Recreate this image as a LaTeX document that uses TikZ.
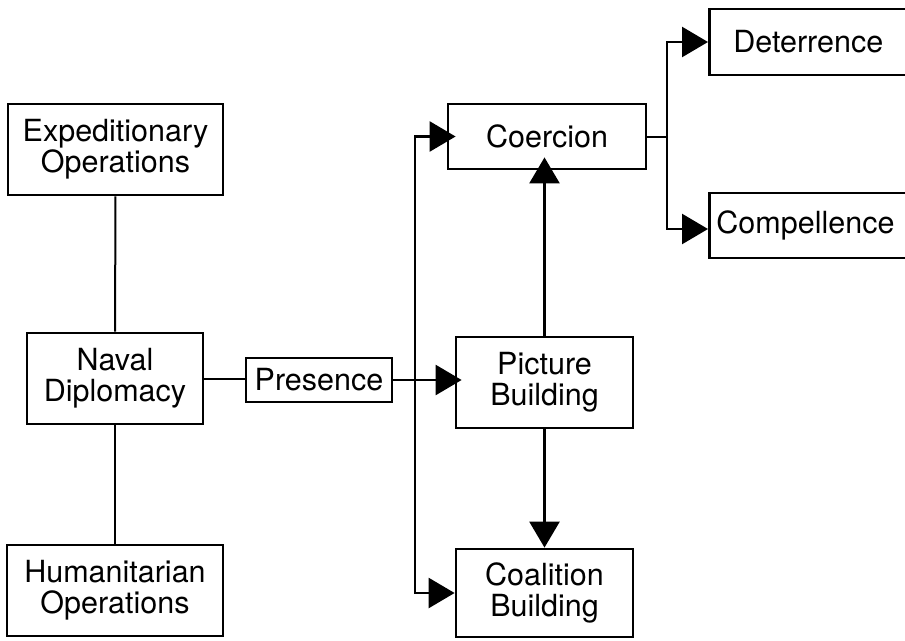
\documentclass[tikz,border=0pt]{standalone}
\usepackage{fontspec}
\setmainfont{TeX Gyre Heros}
\usetikzlibrary{arrows.meta}
\newcommand\diagfont{\fontsize{30.5}{31}\selectfont}
\begin{document}
\begin{tikzpicture}[
 x=1pt, y=-1pt,
 box/.style={rectangle, draw, line width=2.8pt, font=\diagfont, align=center, inner sep=0pt},
 arr/.style={-{Triangle[length=26pt,width=30pt]}, line width=2.6pt},
 link/.style={line width=2pt},
]
\useasboundingbox (0,0) rectangle (905,640);
\node[box, minimum width=215pt, minimum height=91pt] (exped) at (115.5,149.5) {Expeditionary\\Operations};
\node[box, minimum width=176pt, minimum height=91pt] (naval) at (115,378.5) {Naval\\Diplomacy};
\node[box, minimum width=216pt, minimum height=91pt] (human) at (115,590.5) {Humanitarian\\Operations};
\node[box, minimum width=146pt, minimum height=44pt] (presence) at (319,380) {Presence};
\node[box, minimum width=198pt, minimum height=65pt] (coercion) at (547,136.5) {Coercion};
\node[box, minimum width=177pt, minimum height=91pt] (picture) at (544.5,382.5) {Picture\\Building};
\node[box, minimum width=177pt, minimum height=88pt] (coalition) at (544.5,593) {Coalition\\Building};
\node[box, anchor=west, align=left, text width=180pt, inner xsep=24pt, minimum height=66pt] (deter) at (708,42) {Deterrence};
\node[box, anchor=west, align=left, text width=190pt, inner xsep=7pt, minimum height=65pt] (compel) at (708,225.5) {Compellence};

\coordinate (split) at (415,380);
\coordinate (fork) at (667,136.5);

\draw[link] (exped) -- (naval);
\draw[link] (naval) -- (human);
\draw[link] (naval.east) -- (naval.east -| presence.west);
\draw[arr, shorten >=-7pt] (presence.east) -- (presence.east -| picture.west);
\draw[arr, shorten >=-9pt] (split) |- (coercion.west);
\draw[arr] (split) |- (coalition.west);
\draw[arr, shorten >=-13pt] (picture.north) -- (picture.north |- coercion.south);
\draw[arr] (picture.south) -- (picture.south |- coalition.north);
\draw[link] (coercion.east) -- (fork);
\draw[arr] (fork) |- (deter.west);
\draw[arr] (fork) |- ([yshift=-3.5pt]compel.west);
\end{tikzpicture}
\end{document}
